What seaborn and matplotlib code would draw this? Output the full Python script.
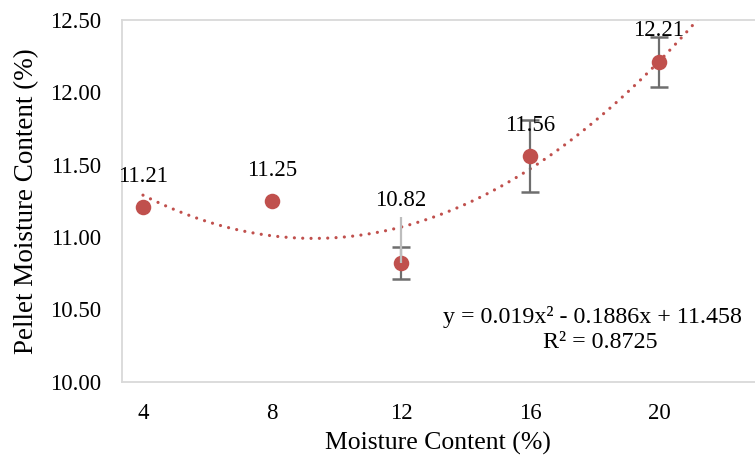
import numpy as np
import pandas as pd
import matplotlib
matplotlib.use("Agg")
import matplotlib.pyplot as plt
import seaborn as sns

# ---- data ----
moisture = [4, 8, 12, 16, 20]
pellet_mc = [11.21, 11.25, 10.82, 11.56, 12.21]
err_sym = [0.0, 0.0, 0.11, 0.25, 0.17]
err_extra_up = [0.0, 0.0, 0.315, 0.0, 0.0]
point_labels = ["11.21", "11.25", "10.82", "11.56", "12.21"]
y_ticks = [10.0, 10.5, 11.0, 11.5, 12.0, 12.5]
x_ticks = [4, 8, 12, 16, 20]
equation_text = "y = 0.019x\u00b2 - 0.1886x + 11.458"
r2_text = "R\u00b2 = 0.8725"

# label vertical offsets (pixels above point)
label_offsets = [30, 30, 63, 30, 31]

sns.set_theme(style="white")
plt.rcParams["font.family"] = ["Liberation Serif", "DejaVu Serif"]

W, H = 755, 461
fig = plt.figure(figsize=(W / 100, H / 100), dpi=100)
left = 121.7 / W
bottom = (H - 381.7) / H
top = (H - 20) / H
ax = fig.add_axes([left, bottom, 1 - left, top - bottom])

red = "#C0504D"
df = pd.DataFrame({"x": moisture, "y": pellet_mc})

# trendline (polynomial fit of the data, order 2), extended forward
coef = np.polyfit(moisture, pellet_mc, 2)
xs = np.linspace(4, 24, 300)
trend = pd.DataFrame({"x": xs, "y": np.polyval(coef, xs)})
sns.lineplot(data=trend, x="x", y="y", ax=ax, color=red, lw=2.3,
             linestyle=(0, (0.01, 2.6)), dash_capstyle="round", zorder=2)

# dark error bars (below markers), only where an error exists
ex = [m for m, e in zip(moisture, err_sym) if e > 0]
ey = [p for p, e in zip(pellet_mc, err_sym) if e > 0]
ee = [e for e in err_sym if e > 0]
ax.errorbar(ex, ey, yerr=ee, fmt="none", ecolor="#6E6E6E",
            elinewidth=1.6, capsize=6.5, capthick=1.8, zorder=3)

sns.scatterplot(data=df, x="x", y="y", ax=ax, color=red, s=125,
                linewidth=0, zorder=4)

# light extra error line (over markers)
lx = [m for m, e in zip(moisture, err_extra_up) if e > 0]
ly = [p for p, e in zip(pellet_mc, err_extra_up) if e > 0]
le = [e for e in err_extra_up if e > 0]
ax.errorbar(lx, ly, yerr=[[0] * len(le), le], fmt="none",
            ecolor="#BDBDBD", elinewidth=1.6, capsize=0, zorder=5)

for xv, yv, lab, off in zip(moisture, pellet_mc, point_labels, label_offsets):
    ax.annotate(lab, (xv, yv), xytext=(0, off), textcoords="offset pixels",
                ha="center", va="center", fontsize=16.5, color="#000000", zorder=6)

ax.set_xlim(3.34, 3.34 + (W - 121.7) / 32.25)
ax.set_ylim(10.0, 12.5)
ax.set_xticks(x_ticks)
ax.set_xticklabels([str(v) for v in x_ticks])
ax.set_yticks(y_ticks)
ax.set_yticklabels([f"{v:.2f}" for v in y_ticks])
ax.tick_params(axis="both", length=0, labelsize=16.5, colors="#000000")
ax.tick_params(axis="y", pad=15)
ax.tick_params(axis="x", pad=15)

for side in ["left", "top", "bottom"]:
    ax.spines[side].set_color("#D9D9D9")
    ax.spines[side].set_linewidth(1.3)
ax.spines["right"].set_visible(False)

ax.set_xlabel("Moisture Content (%)", fontsize=18.5, color="#000000", labelpad=6)
ax.set_ylabel("Pellet Moisture Content (%)", fontsize=19.5, color="#000000", labelpad=8)

fig.text(592 / W, 1 - 316.7 / H, equation_text, ha="center", va="center",
         fontsize=17.3, color="#000000")
fig.text(600 / W, 1 - 342.5 / H, r2_text, ha="center", va="center",
         fontsize=17.3, color="#000000")

fig.savefig("out.png", dpi=100)
